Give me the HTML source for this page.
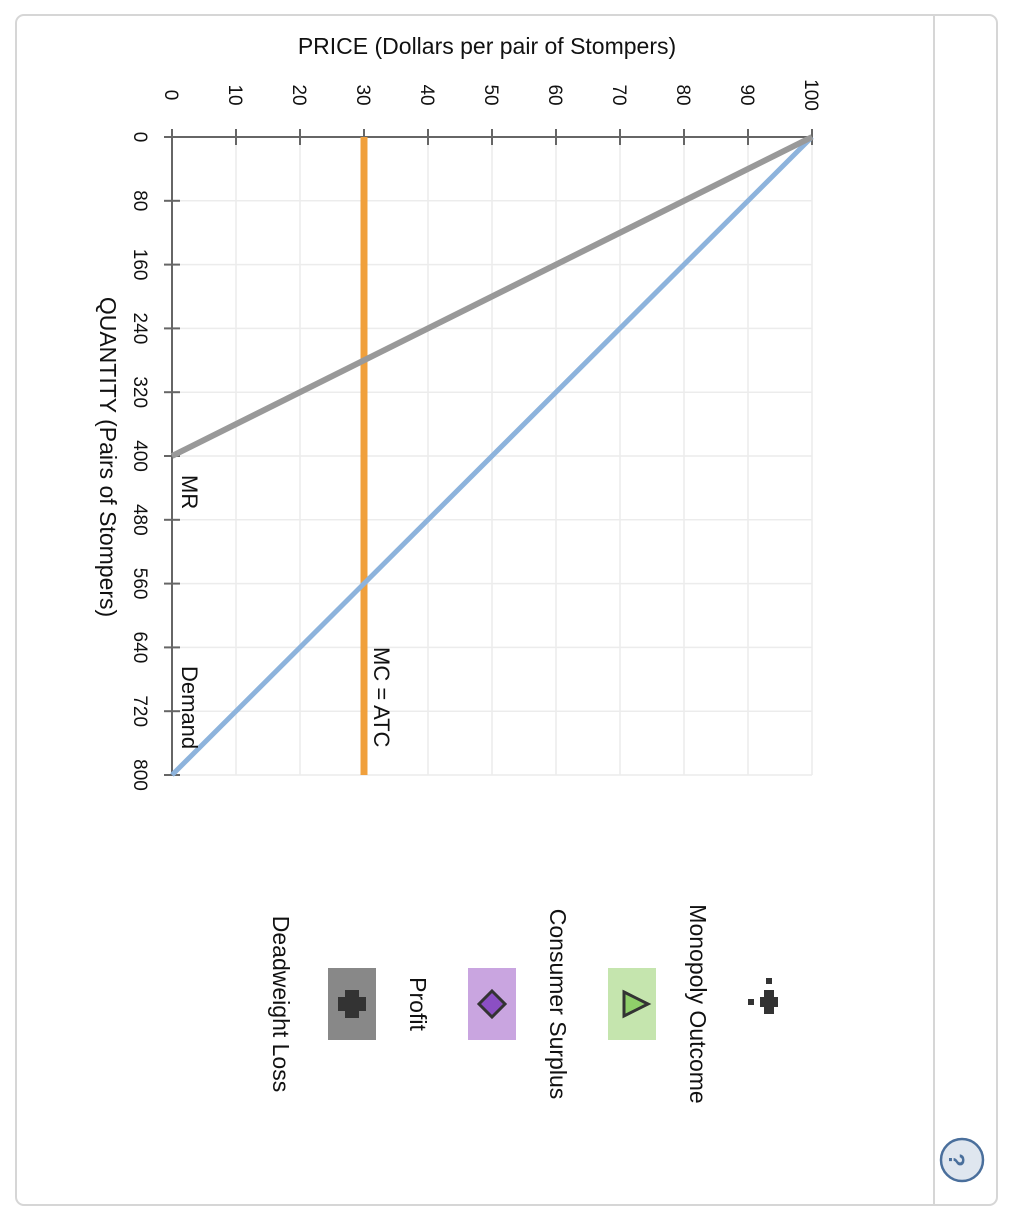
<!DOCTYPE html>
<html><head><meta charset="utf-8"><style>
body{margin:0;background:#fff;}
svg{display:block;font-family:"Liberation Sans",sans-serif;}
</style></head><body>
<svg width="1018" height="1217" viewBox="0 0 1018 1217">
<rect x="16" y="15" width="981" height="1190" rx="8" fill="#fff" stroke="#d6d6d6" stroke-width="2"/>
<line x1="934" y1="15" x2="934" y2="1205" stroke="#d6d6d6" stroke-width="2"/>
<g id="plot"></g>
<text x="487" y="54" font-size="23" text-anchor="middle" fill="#111">PRICE (Dollars per pair of Stompers)</text>
<text transform="translate(100,457) rotate(90)" font-size="23" text-anchor="middle" fill="#111">QUANTITY (Pairs of Stompers)</text>
<text transform="translate(182,475) rotate(90)" font-size="22" fill="#111">MR</text>
<text transform="translate(182,666) rotate(90)" font-size="22" fill="#111">Demand</text>
<text transform="translate(374,647) rotate(90)" font-size="22" fill="#111">MC = ATC</text>

<g>
<g>
<rect x="766" y="978" width="6" height="6" fill="#333"/>
<rect x="748" y="999" width="6" height="6" fill="#333"/>
<rect x="760" y="997" width="18" height="10" fill="#333"/>
<rect x="764" y="990" width="10" height="24" fill="#333"/>
</g>
<text transform="translate(690,1004) rotate(90)" font-size="23" text-anchor="middle" fill="#111">Monopoly Outcome</text>
<g>
<rect x="608" y="968" width="48" height="72" fill="#c5e5ae"/>
<polygon points="624,992 648,1004 624,1016" fill="#8fcf6a" stroke="#333" stroke-width="3"/>
</g>
<text transform="translate(550,1004) rotate(90)" font-size="23" text-anchor="middle" fill="#111">Consumer Surplus</text>
<g>
<rect x="468" y="968" width="48" height="72" fill="#c9a5e0"/>
<polygon points="492,991 505,1004 492,1017 479,1004" fill="#8b4fc4" stroke="#333" stroke-width="3"/>
</g>
<text transform="translate(410,1004) rotate(90)" font-size="23" text-anchor="middle" fill="#111">Profit</text>
<g>
<rect x="328" y="968" width="48" height="72" fill="#888"/>
<rect x="345" y="990" width="14" height="28" fill="#333"/>
<rect x="338" y="997" width="28" height="14" fill="#333"/>
</g>
<text transform="translate(273,1004) rotate(90)" font-size="23" text-anchor="middle" fill="#111">Deadweight Loss</text>
</g>
<g>
<circle cx="962" cy="1160" r="21" fill="#dfe6ef" stroke="#4a6f9c" stroke-width="2.5"/>
<text transform="translate(956,1160) rotate(90)" font-size="22" font-weight="bold" text-anchor="middle" dy="7" fill="#4a6f9c">?</text>
</g>
</svg>
<script>
const priceTicks=[0,10,20,30,40,50,60,70,80,90,100];
const qtyTicks=[0,80,160,240,320,400,480,560,640,720,800];
const demandP=[100,0];const demandQ=[0,800];
const mrP=[100,0];const mrQ=[0,400];
const mcPrice=30;
const NS="http://www.w3.org/2000/svg";
const g=document.getElementById('plot');
const px=p=>172+p*6.4;
const qy=q=>137+q*0.7975;
function mk(tag,at){const e=document.createElementNS(NS,tag);for(const k in at)e.setAttribute(k,at[k]);g.appendChild(e);return e;}
priceTicks.forEach(p=>{
 const l=mk('line',{x1:px(p),y1:qy(0),x2:px(p),y2:qy(800),stroke:'#ececec','stroke-width':1.5});
 
 
 const t=mk('line',{x1:px(p),y1:129,x2:px(p),y2:145,stroke:'#666','stroke-width':2});
 
 
 const tx=mk('text',{transform:`translate(${px(p)-7},95) rotate(90)`,'font-size':19,'text-anchor':'middle',fill:'#111'});
 tx.textContent=p;
 
 
});
qtyTicks.forEach(q=>{
 const l=mk('line',{x1:px(0),y1:qy(q),x2:px(100),y2:qy(q),stroke:'#ececec','stroke-width':1.5});
 
 
 const t=mk('line',{x1:164,y1:qy(q),x2:180,y2:qy(q),stroke:'#666','stroke-width':2});
 
 
 const tx=mk('text',{transform:`translate(134,${qy(q)}) rotate(90)`,'font-size':19,'text-anchor':'middle',fill:'#111'});
 tx.textContent=q;
 
 
});
const ax1=mk('line',{x1:px(0),y1:qy(0),x2:px(100),y2:qy(0),stroke:'#666','stroke-width':2});


const ax2=mk('line',{x1:px(0),y1:qy(0),x2:px(0),y2:qy(800),stroke:'#666','stroke-width':2});


const mc=mk('line',{x1:px(mcPrice),y1:qy(0),x2:px(mcPrice),y2:qy(800),stroke:'#f0a03c','stroke-width':7});


const dl=mk('line',{x1:px(demandP[0]),y1:qy(demandQ[0]),x2:px(demandP[1]),y2:qy(demandQ[1]),stroke:'#8db3dc','stroke-width':5});


const mr=mk('line',{x1:px(mrP[0]),y1:qy(mrQ[0]),x2:px(mrP[1]),y2:qy(mrQ[1]),stroke:'#999','stroke-width':6});


</script>
</body></html>
